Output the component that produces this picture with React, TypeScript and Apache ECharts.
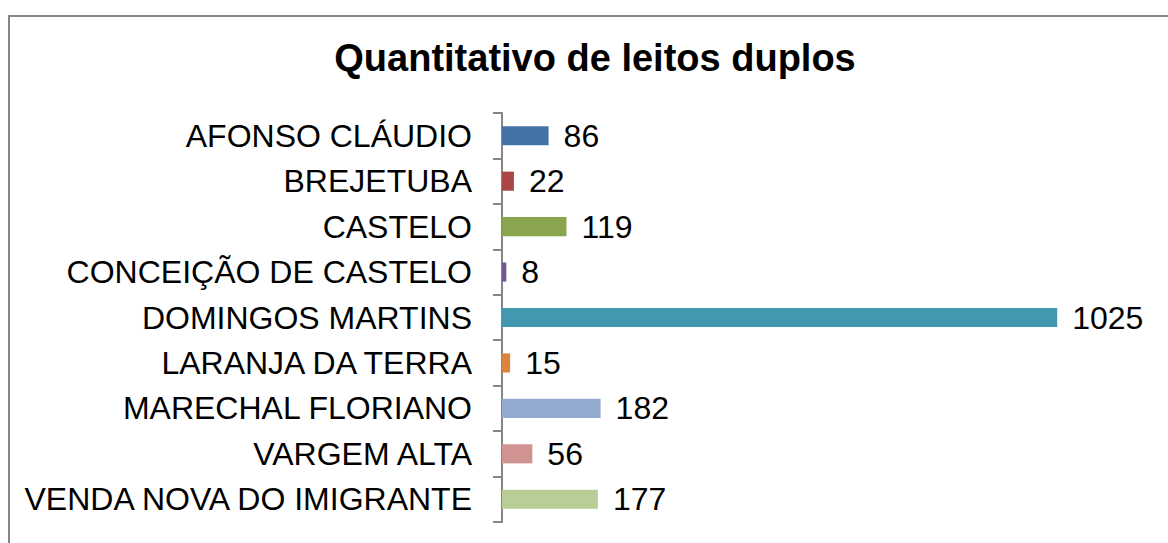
import React, { useEffect, useRef } from "react";
import * as echarts from "echarts";

const categories = [
  "AFONSO CLÁUDIO",
  "BREJETUBA",
  "CASTELO",
  "CONCEIÇÃO DE CASTELO",
  "DOMINGOS MARTINS",
  "LARANJA DA TERRA",
  "MARECHAL FLORIANO",
  "VARGEM ALTA",
  "VENDA NOVA DO IMIGRANTE",
];
const values = [86, 22, 119, 8, 1025, 15, 182, 56, 177];
const colors = [
  "#4572A7",
  "#AA4643",
  "#89A54E",
  "#71588F",
  "#4198AF",
  "#DB843D",
  "#93A9CF",
  "#D19392",
  "#B9CD96",
];
const titleText = "Quantitativo de leitos duplos";

export default function App() {
  const ref = useRef<HTMLDivElement>(null);
  useEffect(() => {
    const chart = echarts.init(ref.current!, null, { renderer: "svg" });
    chart.setOption({
      animation: false,
      backgroundColor: "#ffffff",
      title: {
        text: titleText,
        left: 590,
        textAlign: "center",
        top: 34,
        textStyle: {
          fontFamily: "Liberation Sans, Arial, sans-serif",
          fontSize: 38,
          fontWeight: "bold",
          color: "#000",
        },
      },
      graphic: [
        {
          type: "rect",
          shape: { x: 9, y: 16, width: 1200, height: 600 },
          style: { fill: "none", stroke: "#868686", lineWidth: 2 },
          silent: true,
        },
      ],
      grid: { left: 502, top: 113, width: 650, height: 409, containLabel: false },
      xAxis: {
        type: "value",
        min: 0,
        max: 1200,
        show: false,
        splitLine: { show: false },
      },
      yAxis: {
        type: "category",
        data: categories,
        inverse: true,
        axisLine: { show: true, lineStyle: { color: "#868686", width: 2 } },
        axisTick: { show: true, length: 9, lineStyle: { color: "#868686", width: 2 } },
        axisLabel: {
          fontFamily: "Liberation Sans, Arial, sans-serif",
          fontSize: 32,
          color: "#000",
          margin: 30,
        },
      },
      series: [
        {
          type: "bar",
          data: values.map((v, i) => ({ value: v, itemStyle: { color: colors[i] } })),
          barCategoryGap: "58%",
          label: {
            show: true,
            position: "right",
            distance: 15,
            fontFamily: "Liberation Sans, Arial, sans-serif",
            fontSize: 32,
            color: "#000",
          },
        },
      ],
    });
    return () => chart.dispose();
  }, []);
  return (
    <div
      ref={ref}
      style={{ position: "absolute", left: 0, top: 0, width: 1168, height: 543 }}
    />
  );
}
